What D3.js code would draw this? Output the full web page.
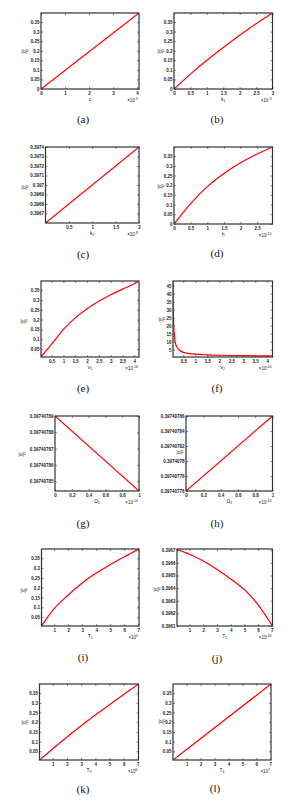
<!DOCTYPE html>
<html>
<head>
<meta charset="utf-8">
<title>|u|^2 sensitivity panels</title>
<script src="https://d3js.org/d3.v7.min.js"></script>
<style>
	body { margin: 0; background: #fff; }
	.tick text { font-family: "Liberation Sans", Arial, sans-serif; font-size: 4.5px; font-weight: bold; fill: #222; }
	.tick line { stroke: #333; stroke-width: 0.6; }
	.box { fill: none; stroke: #333; stroke-width: 1.2; }
	.cap { font-family: "Liberation Serif", "DejaVu Serif", serif; font-size: 11px; fill: #111; }
	.lab { font-family: "Liberation Sans", Arial, sans-serif; font-size: 5px; fill: #222; }
	.curve { fill: none; stroke: #ff0000; stroke-width: 1.2; }
</style>
</head>
<body>
<script>
// common |u|^2 tick set
var uTicks = [0, 0.05, 0.1, 0.15, 0.2, 0.25, 0.3, 0.35];
var uLabels = ["0", "0.05", "0.1", "0.15", "0.2", "0.25", "0.3", "0.35"];
var sevenTicks = [1, 2, 3, 4, 5, 6, 7];

// (a) c
var aX = [0, 4.08];
var aY = [0, 0.3974];
var aXTicks = [0, 1, 2, 3, 4];

// (b) k1
var bX = [0, 0.5, 1, 1.5, 2, 2.5, 3];
var bY = [0, 0.078, 0.150, 0.217, 0.281, 0.341, 0.3974];
var bXTicks = [0, 0.5, 1, 1.5, 2, 2.5, 3];

// (c) k2
var cX = [0, 2];
var cY = [0.3966, 0.3974];
var cXTicks = [0.5, 1, 1.5, 2];
var cYTicks = [0.3967, 0.3968, 0.3969, 0.397, 0.3971, 0.3972, 0.3973, 0.3974];

// (d) h
var dX = [0, 0.5, 1, 1.5, 2, 2.5, 2.96];
var dY = [0, 0.105, 0.193, 0.261, 0.316, 0.361, 0.3974];
var dXTicks = [0, 0.5, 1, 1.5, 2, 2.5];

// (e) v1
var eX = [0.05, 0.5, 1, 1.5, 2, 2.5, 3, 3.5, 4, 4.2];
var eY = [0.01, 0.075, 0.150, 0.209, 0.256, 0.294, 0.327, 0.356, 0.383, 0.3974];
var halfTicks = [0.5, 1, 1.5, 2, 2.5, 3, 3.5, 4];
var eYTicks = [0.05, 0.1, 0.15, 0.2, 0.25, 0.3, 0.35];

// (f) v2
var fX = [0.07, 0.08, 0.1, 0.13, 0.18, 0.25, 0.32, 0.5, 0.75, 1, 1.5, 2, 2.5, 3, 3.5, 4, 4.22];
var fY = [48, 30, 20, 13, 8.7, 6.2, 5, 3.3, 2.6, 2.2, 1.8, 1.55, 1.4, 1.3, 1.2, 1.15, 1.1];
var fYTicks = [5, 10, 15, 20, 25, 30, 35, 40, 45];

// (g) Omega1
var gX = [0, 1];
var gY = [0.39740789, 0.397407844];
var fifthTicks = [0, 0.2, 0.4, 0.6, 0.8, 1];
var gYTicks = [0.39740785, 0.39740786, 0.39740787, 0.39740788, 0.39740789];
var gYLabels = ["0.39740785", "0.39740786", "0.39740787", "0.39740788", "0.39740789"];

// (h) Omega2
var hX = [0, 1];
var hY = [0.39740776, 0.39740786];
var hYTicks = [0.39740776, 0.39740778, 0.3974078, 0.39740782, 0.39740784, 0.39740786];
var hYLabels = ["0.39740776", "0.39740778", "0.3974078", "0.39740782", "0.39740784", "0.39740786"];

// (i) T1
var iX = [0.1, 1, 2, 3, 4, 5, 6, 7.05];
var iY = [0.005, 0.093, 0.163, 0.224, 0.275, 0.318, 0.358, 0.3974];

// (j) T2
var jX = [0.08, 1, 2, 3, 4, 5, 6, 7.05];
var jY = [0.396708, 0.396668, 0.396615, 0.396548, 0.396473, 0.396388, 0.396268, 0.3961];
var jYTicks = [0.3961, 0.3962, 0.3963, 0.3964, 0.3965, 0.3966, 0.3967];

// (k) T3
var kX = [0.06, 1, 2, 3, 4, 5, 6, 7.05];
var kY = [0.005, 0.063, 0.124, 0.182, 0.237, 0.290, 0.343, 0.3974];

// (l) T4
var lX = [0.02, 7.05];
var lY = [0.005, 0.3974];

var panels = [
	{cap: "(a)", xs: aX, ys: aY, xd: [0, 4.08], yd: [0, 0.3974], xt: aXTicks, yt: uTicks, yl: uLabels,
	 name: "c", sub: "", exp: "-5", box: [41, 139, 13, 89], ylab: [25, 51], capPos: [83, 119]},
	{cap: "(b)", xs: bX, ys: bY, xd: [0, 3], yd: [0, 0.3974], xt: bXTicks, yt: uTicks, yl: uLabels,
	 name: "k", sub: "1", exp: "-3", box: [174, 272.5, 13, 89], ylab: [161, 51], capPos: [217, 119]},
	{cap: "(c)", xs: cX, ys: cY, xd: [0, 2], yd: [0.3966, 0.3974], xt: cXTicks, yt: cYTicks, yl: null,
	 name: "k", sub: "2", exp: "-8", box: [45.5, 139, 147, 223], ylab: [25, 187], capPos: [83, 254]},
	{cap: "(d)", xs: dX, ys: dY, xd: [0, 2.96], yd: [0, 0.3974], xt: dXTicks, yt: uTicks, yl: uLabels,
	 name: "h", sub: "", exp: "-10", box: [174, 272.5, 147, 224], ylab: [161, 186], capPos: [217, 253]},
	{cap: "(e)", xs: eX, ys: eY, xd: [0.05, 4.2], yd: [0.009, 0.3974], xt: halfTicks, yt: eYTicks, yl: null,
	 name: "v", sub: "1", exp: "-16", box: [41, 139, 281, 357], ylab: [24, 321], capPos: [83, 388]},
	{cap: "(f)", xs: fX, ys: fY, xd: [0.07, 4.22], yd: [0.45, 47.9], xt: halfTicks, yt: fYTicks, yl: null,
	 name: "v", sub: "2", exp: "-16", box: [173, 272.5, 281, 357], ylab: [162, 319], capPos: [217, 388]},
	{cap: "(g)", xs: gX, ys: gY, xd: [0, 1], yd: [0.397407844, 0.39740789], xt: fifthTicks, yt: gYTicks, yl: gYLabels,
	 name: "Ω", sub: "1", exp: "-16", box: [55, 139, 416, 491], ylab: [22, 454], capPos: [83, 523]},
	{cap: "(h)", xs: hX, ys: hY, xd: [0, 1], yd: [0.39740776, 0.39740786], xt: fifthTicks, yt: hYTicks, yl: hYLabels,
	 name: "Ω", sub: "2", exp: "-16", box: [186, 272.5, 416, 491], ylab: [180, 452], capPos: [217, 523]},
	{cap: "(i)", xs: iX, ys: iY, xd: [0.1, 7.05], yd: [0.005, 0.3974], xt: sevenTicks, yt: eYTicks, yl: null,
	 name: "T", sub: "1", exp: "5", box: [41.5, 139, 549, 626], ylab: [24, 590], capPos: [83, 657]},
	{cap: "(j)", xs: jX, ys: jY, xd: [0.08, 7.05], yd: [0.3961, 0.39671], xt: sevenTicks, yt: jYTicks, yl: null,
	 name: "T", sub: "2", exp: "-16", box: [177, 272.5, 549, 626], ylab: [157, 589], capPos: [217, 658]},
	{cap: "(k)", xs: kX, ys: kY, xd: [0.06, 7.05], yd: [0.005, 0.3974], xt: sevenTicks, yt: eYTicks, yl: null,
	 name: "T", sub: "3", exp: "6", box: [39.5, 138.5, 684, 760], ylab: [25, 722], capPos: [83, 789]},
	{cap: "(l)", xs: lX, ys: lY, xd: [0.02, 7.05], yd: [0.005, 0.3974], xt: sevenTicks, yt: eYTicks, yl: null,
	 name: "T", sub: "4", exp: "7", box: [173, 271, 684, 760], ylab: [162, 721], capPos: [215, 788]}
];

var svg = d3.select("body")
			.append("svg")
			.attr("width", 304)
			.attr("height", 802);

panels.forEach(function(p, idx) {
	var x0 = p.box[0], x1 = p.box[1], y0 = p.box[2], y1 = p.box[3];

	var xScale = d3.scaleLinear().domain(p.xd).range([x0, x1]);
	var yScale = d3.scaleLinear().domain(p.yd).range([y1, y0]);

	var g = svg.append("g");

	g.append("clipPath")
		.attr("id", "clip" + idx)
		.append("rect")
		.attr("x", x0).attr("y", y0)
		.attr("width", x1 - x0).attr("height", y1 - y0);

	var fmtX = function(d) { return String(+d.toFixed(4)); };
	var fmtY = p.yl ? function(d, i) { return p.yl[i]; } : function(d) { return String(+d.toFixed(6)); };

	// bottom + left with labels, top + right ticks only (all pointing inward)
	var xa = g.append("g").attr("transform", "translate(0," + y1 + ")")
		.call(d3.axisBottom(xScale).tickValues(p.xt).tickSize(-2).tickPadding(3).tickFormat(fmtX));
	var xt = g.append("g").attr("transform", "translate(0," + y0 + ")")
		.call(d3.axisTop(xScale).tickValues(p.xt).tickSize(-2).tickFormat(""));
	var ya = g.append("g").attr("transform", "translate(" + x0 + ",0)")
		.call(d3.axisLeft(yScale).tickValues(p.yt).tickSize(-2).tickPadding(1.5).tickFormat(fmtY));
	var yr = g.append("g").attr("transform", "translate(" + x1 + ",0)")
		.call(d3.axisRight(yScale).tickValues(p.yt).tickSize(-2).tickFormat(""));
	[xa, xt, ya, yr].forEach(function(a) { a.select(".domain").remove(); });

	var line = d3.line()
		.x(function(d) { return xScale(d[0]); })
		.y(function(d) { return yScale(d[1]); })
		.curve(d3.curveMonotoneX);

	g.append("path")
		.datum(d3.zip(p.xs, p.ys))
		.attr("class", "curve")
		.attr("clip-path", "url(#clip" + idx + ")")
		.attr("d", line);

	g.append("rect")
		.attr("class", "box")
		.attr("x", x0).attr("y", y0)
		.attr("width", x1 - x0).attr("height", y1 - y0);

	// x label
	var xl = g.append("text")
		.attr("class", "lab")
		.attr("x", (x0 + x1) / 2)
		.attr("y", y1 + 12)
		.attr("text-anchor", "middle")
		.text(p.name);
	if (p.sub) {
		xl.append("tspan").attr("dy", 1.2).style("font-size", "3.5px").text(p.sub);
	}

	// exponent
	var ex = g.append("text")
		.attr("class", "lab")
		.attr("x", x1 - 1)
		.attr("y", y1 + 12.5)
		.attr("text-anchor", "end")
		.style("font-size", "4.5px")
		.text("\u00d710");
	ex.append("tspan").attr("dy", -2).style("font-size", "3.5px").text(p.exp);

	// y label
	g.append("text")
		.attr("class", "lab")
		.attr("x", p.ylab[0])
		.attr("y", p.ylab[1] + 2)
		.attr("text-anchor", "middle")
		.text("|u|\u00b2");

	// panel caption
	g.append("text")
		.attr("class", "cap")
		.attr("x", p.capPos[0])
		.attr("y", p.capPos[1] + 3.5)
		.attr("text-anchor", "middle")
		.text(p.cap);
});
</script>
</body>
</html>
